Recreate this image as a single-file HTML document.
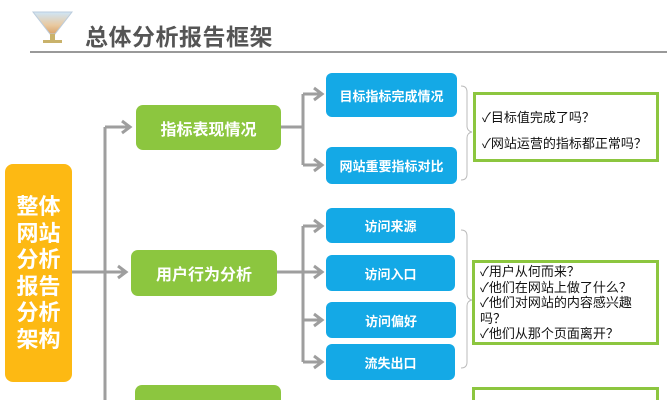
<!DOCTYPE html>
<html><head><meta charset="utf-8"><style>
html,body{margin:0;width:667px;height:400px;overflow:hidden;background:#fff;font-family:"Liberation Sans","Noto Sans CJK SC",sans-serif;position:relative}
.a{position:absolute}
.g{position:absolute;background:#8cc63f;border-radius:7px;color:#fff;font-size:16px;font-weight:bold;display:flex;align-items:center;justify-content:center}
.b{position:absolute;background:#14a9e6;border-radius:6px;color:#fff;font-size:13px;font-weight:bold;display:flex;align-items:center;justify-content:center}
.o{position:absolute;border:3px solid #8cc63f;background:#fff;font-size:13px;color:#111;box-sizing:border-box}
</style></head><body>
<svg class="a" style="left:0;top:0" width="667" height="400">
<defs><linearGradient id="f" x1="0" y1="0" x2="0" y2="1"><stop offset="0" stop-color="#cfe6f7"/><stop offset="0.6" stop-color="#e9c9a0"/><stop offset="1" stop-color="#d9a46a"/></linearGradient></defs>
<polygon points="33,12 72,12 55,34 50,34" fill="url(#f)" stroke="#bcd" stroke-width="1"/>
<rect x="50" y="34" width="5" height="6" fill="#c9b26b"/>
<rect x="43" y="40" width="19" height="3" fill="#c9b26b"/>
<line x1="30" y1="52" x2="667" y2="52" stroke="#999" stroke-width="2"/>
<g stroke="#9e9e9e" stroke-width="3" fill="none">
<line x1="105" y1="127" x2="105" y2="400"/>
<line x1="105" y1="127" x2="130" y2="127"/><polyline points="122,121 130,127 122,133"/>
<line x1="72" y1="272" x2="126" y2="272"/><polyline points="118,266 126,272 118,278"/>
<line x1="281" y1="127" x2="303" y2="127"/><line x1="303" y1="94" x2="303" y2="165"/>
<line x1="303" y1="94" x2="322" y2="94"/><polyline points="314,88 322,94 314,100"/>
<line x1="303" y1="165" x2="322" y2="165"/><polyline points="314,159 322,165 314,171"/>
<line x1="277" y1="272" x2="303" y2="272"/><line x1="303" y1="226" x2="303" y2="362"/>
<line x1="303" y1="226" x2="322" y2="226"/><polyline points="314,220 322,226 314,232"/>
<line x1="303" y1="272" x2="322" y2="272"/><polyline points="314,266 322,272 314,278"/>
<line x1="303" y1="320" x2="322" y2="320"/><polyline points="314,314 322,320 314,326"/>
<line x1="303" y1="362" x2="322" y2="362"/><polyline points="314,356 322,362 314,368"/>
</g>
<g stroke="#bbb" stroke-width="1" fill="none">
<path d="M461,86 Q467,86 467,92 L467,126 Q467,131 472,132 Q467,133 467,138 L467,174 Q467,180 461,180"/>
<path d="M461,230 Q467,230 467,236 L467,294 Q467,299 472,300 Q467,301 467,306 L467,362 Q467,368 461,368"/>
</g>
</svg>
<div class="a" style="left:85px;top:18px;font-size:23px;font-weight:bold;color:#555;letter-spacing:0.5px">总体分析报告框架</div>
<div class="a" style="left:5px;top:164px;width:67px;height:218px;background:#fdb913;border-radius:8px;color:#fff;font-size:22px;font-weight:bold;line-height:26.5px;text-align:center;box-sizing:border-box;padding-top:30px">整体<br>网站<br>分析<br>报告<br>分析<br>架构</div>
<div class="g" style="left:136px;top:105px;width:145px;height:45px">指标表现情况</div>
<div class="g" style="left:131px;top:250px;width:146px;height:46px">用户行为分析</div>
<div class="g" style="left:135px;top:385px;width:146px;height:15px;border-radius:7px 7px 0 0"></div>
<div class="b" style="left:326px;top:73px;width:131px;height:44px">目标指标完成情况</div>
<div class="b" style="left:326px;top:147px;width:131px;height:37px">网站重要指标对比</div>
<div class="b" style="left:326px;top:208px;width:129px;height:35px">访问来源</div>
<div class="b" style="left:326px;top:255px;width:129px;height:36px">访问入口</div>
<div class="b" style="left:326px;top:302px;width:130px;height:36px">访问偏好</div>
<div class="b" style="left:326px;top:344px;width:129px;height:36px">流失出口</div>
<div class="o" style="left:473px;top:92px;width:186px;height:70px;padding:10px 0 0 6px;line-height:26px">✓目标值完成了吗？<br>✓网站运营的指标都正常吗？</div>
<div class="o" style="left:472px;top:260px;width:187px;height:85px;padding:1px 4px 0 5px;line-height:15.5px">✓用户从何而来？<br>✓他们在网站上做了什么？<br>✓他们对网站的内容感兴趣吗？<br>✓他们从那个页面离开？</div>
<div class="o" style="left:472px;top:387px;width:187px;height:13px;border-bottom:none"></div>
</body></html>
